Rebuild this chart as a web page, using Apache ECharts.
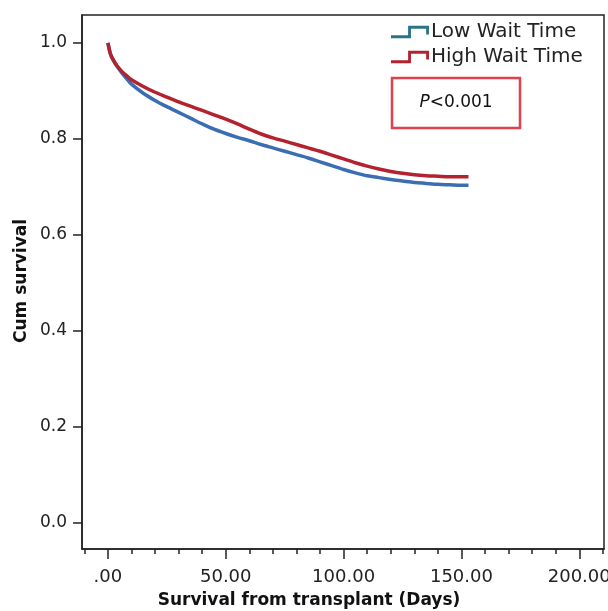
<!DOCTYPE html>
<html>
<head>
<meta charset="utf-8">
<script src="https://cdn.jsdelivr.net/npm/echarts@6/dist/echarts.min.js"></script>
<style>
html,body{margin:0;padding:0;background:#fff;}
#chart{width:608px;height:611px;}
</style>
</head>
<body>
<div id="chart"></div>
<script>
// Survival time (days)
var days = [0, 1, 2, 4, 6, 8, 10, 15, 20, 25, 30, 35, 40, 45, 50, 55, 60, 65, 70, 75, 80, 85, 90, 95, 100, 105, 110, 115, 120, 125, 130, 135, 140, 145, 150, 153];
// Cumulative survival, Low Wait Time
var lowWait = [1.0, 0.978, 0.966, 0.950, 0.937, 0.925, 0.914, 0.895, 0.880, 0.867, 0.855, 0.843, 0.831, 0.820, 0.811, 0.803, 0.796, 0.788, 0.781, 0.774, 0.767, 0.760, 0.752, 0.744, 0.736, 0.729, 0.723, 0.719, 0.715, 0.712, 0.709, 0.707, 0.705, 0.704, 0.703, 0.703];
// Cumulative survival, High Wait Time
var highWait = [1.0, 0.978, 0.967, 0.951, 0.940, 0.931, 0.923, 0.909, 0.897, 0.887, 0.877, 0.868, 0.859, 0.850, 0.841, 0.831, 0.820, 0.810, 0.802, 0.795, 0.788, 0.781, 0.774, 0.766, 0.758, 0.750, 0.743, 0.737, 0.732, 0.728, 0.725, 0.723, 0.722, 0.721, 0.721, 0.721];
var seriesNames = ['Low Wait Time', 'High Wait Time'];
var xMajorTicks = [0, 50, 100, 150, 200];
var xMinorTicks = [-10, 0, 10, 20, 30, 40, 50, 60, 70, 80, 90, 100, 110, 120, 130, 140, 150, 160, 170, 180, 190, 200, 210];
var yTicks = [0, 0.2, 0.4, 0.6, 0.8, 1.0];
var pText = 'P<0.001';

function zip(xs, ys) { return xs.map(function (x, i) { return [x, ys[i]]; }); }

var chart = echarts.init(document.getElementById('chart'), null, {renderer: 'canvas'});
var font = 'DejaVu Sans';
var stepIcon = 'path://M0,10 L18,10 L18,0 L40,0 L40,9 L37,9 L37,3 L21,3 L21,13 L0,13 Z';

chart.setOption({
  animation: false,
  backgroundColor: '#fff',
  grid: {left: 82, top: 15, width: 522, height: 534, show: true, borderColor: '#222', borderWidth: 1.5,
    backgroundColor: 'transparent', containLabel: false, outerBoundsMode: 'none'},
  legend: {
    orient: 'vertical', left: 391, top: 22, padding: 0, itemGap: 5,
    itemWidth: 38, itemHeight: 13,
    textStyle: {fontFamily: font, fontSize: 20, color: '#222', lineHeight: 20, padding: [0, 0, 0, -3]},
    data: [
      {name: seriesNames[0], icon: stepIcon, itemStyle: {color: '#2b7387'}},
      {name: seriesNames[1], icon: stepIcon, itemStyle: {color: '#b3222e'}}
    ]
  },
  xAxis: [{
    type: 'value', min: -11, max: 210.5,
    axisLine: {show: true, onZero: false, lineStyle: {color: '#222', width: 1.5}},
    axisTick: {show: true, customValues: xMajorTicks, length: 10, lineStyle: {color: '#222', width: 1.5}},
    axisLabel: {customValues: xMajorTicks, fontFamily: font, fontSize: 18, color: '#222', margin: 19,
      formatter: function (v) { return v === 0 ? '.00' : v.toFixed(2); }},
    splitLine: {show: false}
  }, {
    type: 'value', min: -11, max: 210.5, position: 'bottom',
    axisLine: {show: false, onZero: false},
    axisTick: {show: true, customValues: xMinorTicks, length: 5, lineStyle: {color: '#222', width: 1.5}},
    axisLabel: {show: false},
    splitLine: {show: false}
  }],
  yAxis: {
    type: 'value', min: -0.055, max: 1.058,
    axisLine: {show: true, onZero: false, lineStyle: {color: '#222', width: 1.5}},
    axisTick: {show: true, customValues: yTicks, length: 9, lineStyle: {color: '#222', width: 1.5}},
    axisLabel: {customValues: yTicks, fontFamily: font, fontSize: 17, color: '#222', margin: 15,
      formatter: function (v) { return v.toFixed(1); }},
    splitLine: {show: false}
  },
  series: [
    {name: seriesNames[0], type: 'line', data: zip(days, lowWait), showSymbol: false, smooth: 0.3,
      lineStyle: {color: '#3b6db3', width: 3.5}, itemStyle: {color: '#3b6db3'}},
    {name: seriesNames[1], type: 'line', data: zip(days, highWait), showSymbol: false, smooth: 0.3,
      lineStyle: {color: '#b3222e', width: 3.5}, itemStyle: {color: '#b3222e'}}
  ],
  graphic: [
    {type: 'rect', shape: {x: 392, y: 78, width: 128, height: 50},
      style: {fill: 'none', stroke: '#e0414c', lineWidth: 2.5}},
    {type: 'text', x: 456, y: 103,
      style: {text: '{i|P}{n|<0.001}', align: 'center', verticalAlign: 'middle',
        rich: {i: {fontFamily: font, fontSize: 17, fontStyle: 'italic', fill: '#111'},
               n: {fontFamily: font, fontSize: 17, fill: '#111'}}}},
    {type: 'text', x: 309, y: 601,
      style: {text: 'Survival from transplant (Days)', align: 'center', verticalAlign: 'middle',
        fontFamily: font, fontSize: 17, fontWeight: 'bold', fill: '#111'}},
    {type: 'text', x: 22, y: 281, rotation: Math.PI / 2,
      style: {text: 'Cum survival', align: 'center', verticalAlign: 'middle',
        fontFamily: font, fontSize: 17, fontWeight: 'bold', fill: '#111'}}
  ]
});
</script>
</body>
</html>
